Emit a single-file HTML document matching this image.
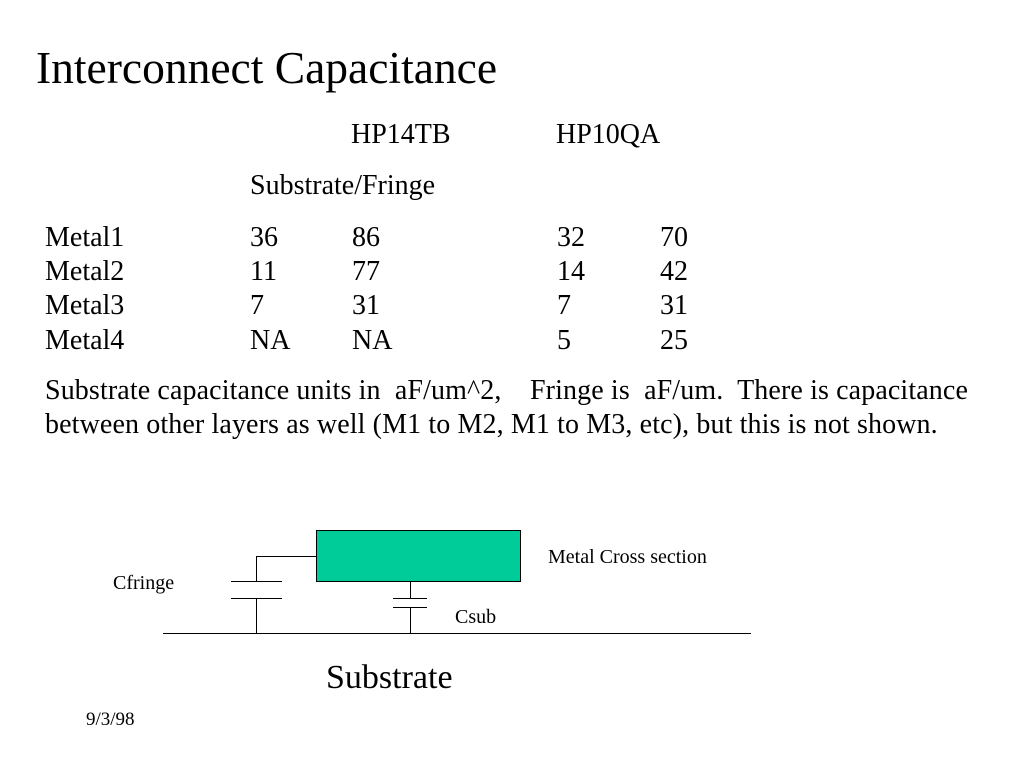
<!DOCTYPE html>
<html><head><style>
body{margin:0;width:1024px;height:768px;background:#fff;position:relative;overflow:hidden;font-family:"Liberation Serif",serif;color:#000}
.t{position:absolute;white-space:nowrap;line-height:1}
.b{font-size:28px}
.s{font-size:20px}
</style></head><body>
<div class="t" style="left:36px;top:45px;font-size:45.5px">Interconnect Capacitance</div>
<div class="t b" style="left:351px;top:121px">HP14TB</div>
<div class="t b" style="left:556px;top:121px">HP10QA</div>
<div class="t b" style="left:250px;top:172px">Substrate/Fringe</div>
<div class="t b" style="left:45px;top:224px">Metal1</div>
<div class="t b" style="left:45px;top:258px">Metal2</div>
<div class="t b" style="left:45px;top:292px">Metal3</div>
<div class="t b" style="left:45px;top:327px">Metal4</div>
<div class="t b" style="left:250px;top:224px">36</div>
<div class="t b" style="left:250px;top:258px">11</div>
<div class="t b" style="left:250px;top:292px">7</div>
<div class="t b" style="left:250px;top:327px">NA</div>
<div class="t b" style="left:352px;top:224px">86</div>
<div class="t b" style="left:352px;top:258px">77</div>
<div class="t b" style="left:352px;top:292px">31</div>
<div class="t b" style="left:352px;top:327px">NA</div>
<div class="t b" style="left:557px;top:224px">32</div>
<div class="t b" style="left:557px;top:258px">14</div>
<div class="t b" style="left:557px;top:292px">7</div>
<div class="t b" style="left:557px;top:327px">5</div>
<div class="t b" style="left:660px;top:224px">70</div>
<div class="t b" style="left:660px;top:258px">42</div>
<div class="t b" style="left:660px;top:292px">31</div>
<div class="t b" style="left:660px;top:327px">25</div>
<div class="t b" style="left:45px;top:377px;letter-spacing:0.12px">Substrate capacitance units in&nbsp; aF/um^2,&nbsp;&nbsp;&nbsp; Fringe is&nbsp; aF/um.&nbsp; There is capacitance</div>
<div class="t b" style="left:45px;top:411px;letter-spacing:0.12px">between other layers as well (M1 to M2, M1 to M3, etc), but this is not shown.</div>
<svg width="1024" height="768" style="position:absolute;left:0;top:0">
<rect x="316.5" y="530.5" width="204" height="51" fill="#00CC99" stroke="#000" stroke-width="1"/>
<g stroke="#000" stroke-width="1" fill="none">
<path d="M316 556.5H256.5V581"/>
<path d="M231 581.5H282M231 598.5H282"/>
<path d="M256.5 598V633"/>
<path d="M410.5 582V598M393 598.5H427M393 607.5H427M410.5 607V633"/>
<path d="M163 633.5H751"/>
</g>
</svg>
<div class="t s" style="left:548px;top:547px">Metal Cross section</div>
<div class="t s" style="left:113px;top:573px">Cfringe</div>
<div class="t s" style="left:455px;top:607px">Csub</div>
<div class="t" style="left:326px;top:661px;font-size:34px">Substrate</div>
<div class="t" style="left:86px;top:710px;font-size:19px">9/3/98</div>
</body></html>
